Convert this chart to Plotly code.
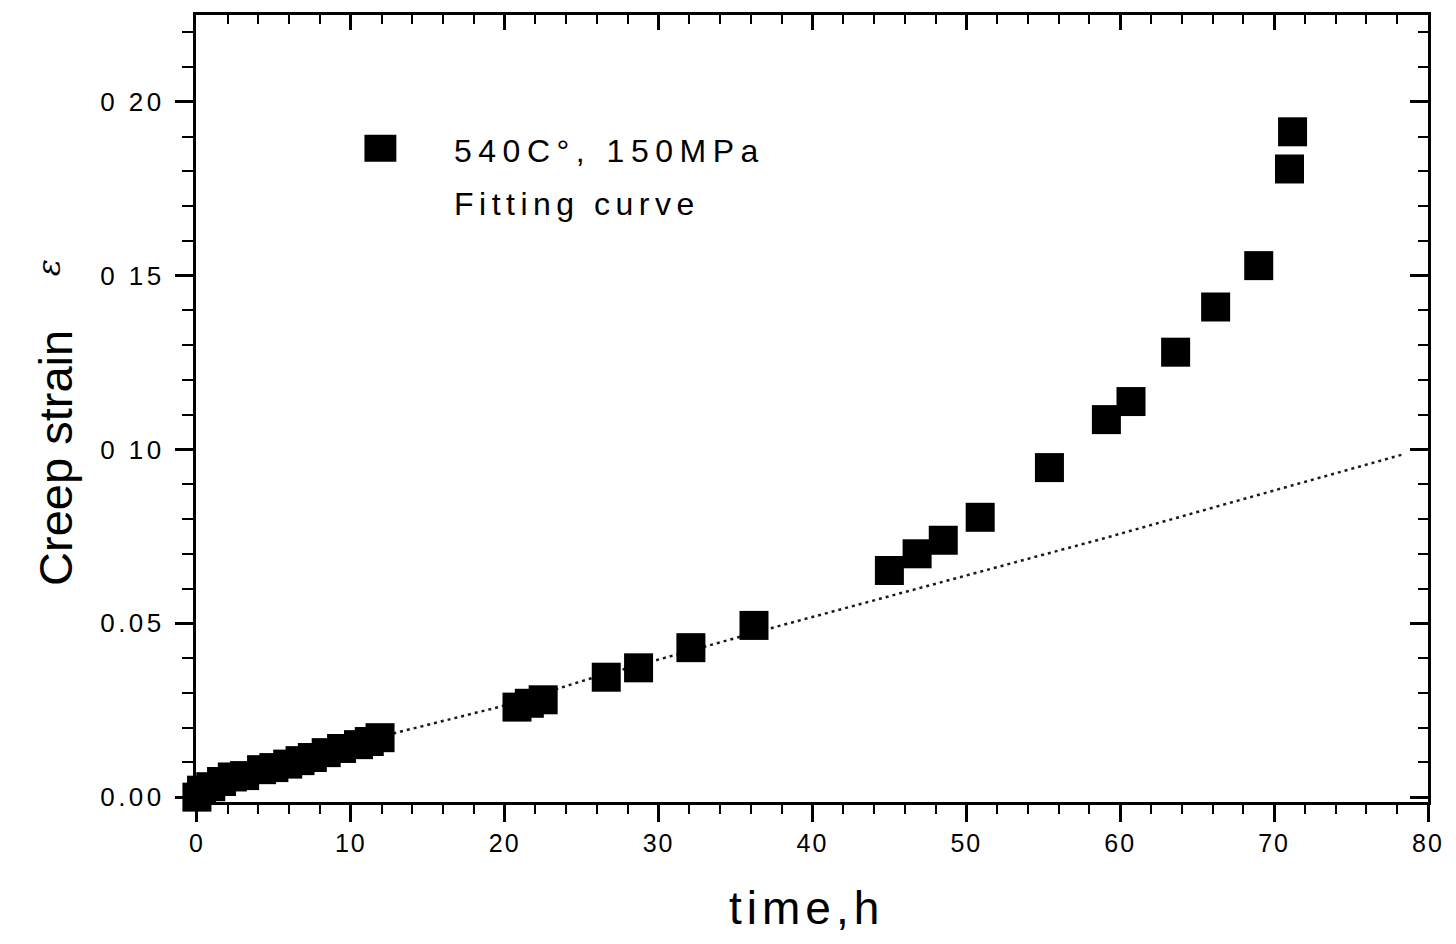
import plotly.graph_objects as go

# ---- data ----
time_h = [0, 0.3, 0.9, 1.6, 2.3, 3.1, 4.2, 5.0, 5.9, 6.7, 7.5, 8.4, 9.4, 10.5, 11.2, 11.9,
          20.8, 21.6, 22.5, 26.6, 28.7, 32.1, 36.2, 45.0, 46.8, 48.5, 50.9, 55.4,
          59.1, 60.7, 63.6, 66.2, 69.0, 71.0, 71.2]
strain = [0.000, 0.002, 0.003, 0.0045, 0.0058, 0.0062, 0.0079, 0.0085, 0.0095, 0.0105, 0.0114,
          0.0128, 0.0140, 0.0151, 0.0160, 0.0171,
          0.0259, 0.0270, 0.0280, 0.0345, 0.0372, 0.0430, 0.0494, 0.0652, 0.0700, 0.0739,
          0.0805, 0.0948, 0.1086, 0.1138, 0.1280, 0.1410, 0.1529, 0.1807, 0.1914]

fit_time = [0.5, 13.1, 19.6, 25.4, 37.3, 45.0, 58.9, 67.0, 78.3]
fit_strain = [0.003, 0.0187, 0.0259, 0.0339, 0.0486, 0.0578, 0.0744, 0.0845, 0.0985]

x_ticks = [0, 10, 20, 30, 40, 50, 60, 70, 80]
x_ticktext = ["0", "10", "20", "30", "40", "50", "60", "70", "80"]
y_ticks = [0.00, 0.05, 0.10, 0.15, 0.20]
y_ticktext = ["0.00", "0.05", "0 10", "0 15", "0 20"]

series_name = "540C°, 150MPa"
fit_name = "Fitting curve"

# ---- layout geometry (pixels) ----
W, H = 1456, 944
L, R, T, B = 196, 24, 14, 142
PW, PH = W - L - R, H - T - B
XR = [-0.06, 80]
YR = [-0.0014, 0.225]
FONT = "Arial, Liberation Sans, sans-serif"


def px(xp):
    return (xp - L) / PW


def py(yp):
    return (H - B - yp) / PH


def spaced(s, sp):
    return f"<span style='letter-spacing:{sp}px'>{s}</span>"


fig = go.Figure()

fig.add_trace(go.Scatter(
    x=fit_time, y=fit_strain, mode="lines", name=fit_name,
    line=dict(color="#1a1a1a", width=2.5, dash="3px,4px"),
    showlegend=False, cliponaxis=False,
))
fig.add_trace(go.Scatter(
    x=time_h, y=strain, mode="markers", name=series_name,
    marker=dict(symbol="square", size=29, color="black", line=dict(width=0)),
    showlegend=False, cliponaxis=False,
))

axis_common = dict(showgrid=False, zeroline=False, linecolor="black", linewidth=3,
                   tickcolor="black", tickwidth=2.5)
overlay_common = {k: v for k, v in axis_common.items() if k not in ("linecolor", "linewidth")}

fig.update_layout(
    width=W, height=H,
    margin=dict(l=L, r=R, t=T, b=B, pad=0),
    plot_bgcolor="white", paper_bgcolor="white",
    font=dict(family=FONT, color="black"),
    xaxis=dict(
        range=XR, showline=True, mirror=True, ticks="outside", ticklen=17,
        tickvals=x_ticks, ticktext=[spaced(t, 2) for t in x_ticktext],
        tickfont=dict(size=25, family=FONT), ticklabelstandoff=0,
        minor=dict(dtick=2, tick0=0, ticks="outside", ticklen=9, tickwidth=2, tickcolor="black"),
        **axis_common,
    ),
    yaxis=dict(
        range=YR, showline=True, mirror=True, ticks="outside", ticklen=18,
        tickvals=y_ticks, ticktext=[spaced(t, 3.5) for t in y_ticktext],
        tickfont=dict(size=26, family=FONT), ticklabelstandoff=5,
        minor=dict(dtick=0.01, tick0=0, ticks="outside", ticklen=11, tickwidth=2, tickcolor="black"),
        **axis_common,
    ),
    xaxis2=dict(
        range=XR, overlaying="x", side="top", anchor="y", showline=False,
        ticks="inside", ticklen=15, tickvals=x_ticks, showticklabels=False,
        minor=dict(dtick=2, tick0=0, ticks="inside", ticklen=9, tickwidth=2, tickcolor="black"),
        **overlay_common,
    ),
    yaxis2=dict(
        range=YR, overlaying="y", side="right", anchor="x", showline=False,
        ticks="inside", ticklen=18, tickvals=y_ticks, showticklabels=False,
        minor=dict(dtick=0.01, tick0=0, ticks="inside", ticklen=10, tickwidth=2, tickcolor="black"),
        **overlay_common,
    ),
)

# invisible trace so the overlay (top/right) axes render
fig.add_trace(go.Scatter(x=[None], y=[None], xaxis="x2", yaxis="y2", showlegend=False, hoverinfo="skip"))

annotations = [
    dict(text="Creep strain", x=px(55), y=py(457), textangle=-90,
         font=dict(size=47, family=FONT)),
    dict(text="<i>ε</i>", x=px(48), y=py(267), textangle=-90,
         font=dict(size=32, family="DejaVu Serif, serif")),
    dict(text=spaced("time,h", 5), x=px(808), y=py(908),
         font=dict(size=46, family=FONT)),
    dict(text=spaced(series_name, 6.5), x=px(453), y=py(150), xanchor="left",
         font=dict(size=32, family=FONT)),
    dict(text=spaced(fit_name, 5.5), x=px(453), y=py(203), xanchor="left",
         font=dict(size=32, family=FONT)),
]
for a in annotations:
    a.update(xref="paper", yref="paper", showarrow=False)
    a.setdefault("xanchor", "center")
    a["yanchor"] = "middle"
fig.update_layout(annotations=annotations)

fig.add_shape(type="rect", xref="paper", yref="paper",
              x0=px(365), x1=px(397), y0=py(161), y1=py(134),
              fillcolor="black", line=dict(width=0))

fig.write_html("out.html")
